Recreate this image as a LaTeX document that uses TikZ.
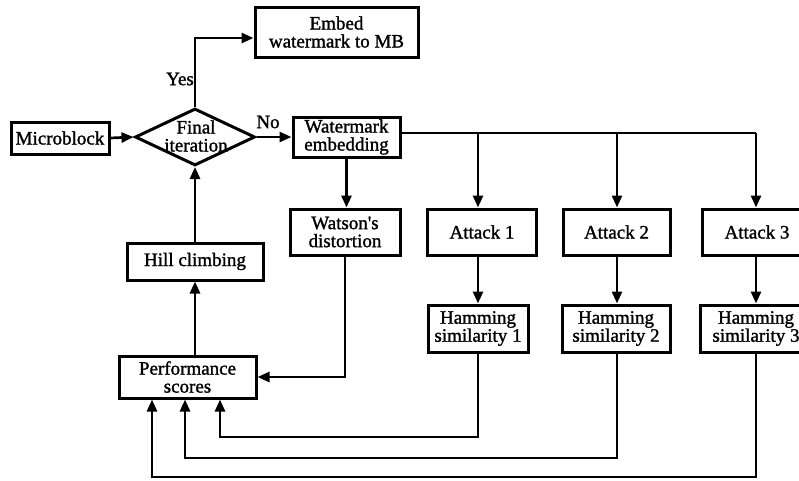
\documentclass[tikz,border=0pt]{standalone}
\usepackage{fontspec}
\setmainfont{Liberation Serif}[Ligatures=TeXOff, FakeBold=1.3]
\usetikzlibrary{shapes.geometric,arrows.meta}
\tikzset{
  box/.style={draw, line width=3pt, rectangle, inner sep=0pt, align=center,
    font=\fontsize{19}{18}\selectfont},
  conn/.style={line width=2.7pt},
  arr/.style={line width=2.7pt, -{Triangle[length=12pt,width=10pt]}},
  lbl/.style={font=\fontsize{19}{18}\selectfont, inner sep=0pt}
}
\begin{document}
\begin{tikzpicture}[x=1pt,y=-1pt]
\useasboundingbox (0,0) rectangle (799,480);
\clip (0,0) rectangle (799,480);
\fill[white] (0,0) rectangle (799,480);
% nodes
\node[box, minimum width=98pt, minimum height=32pt] (micro) at (60,138) {Microblock};
\node[draw, line width=3pt, diamond, minimum width=120pt, minimum height=57pt, inner sep=0pt] (final) at (195,137) {};
\node[lbl, align=center] (finaltxt) at (196,136) {Final\\iteration};
\node[box, minimum width=163pt, minimum height=50pt] (embed) at (336.5,32) {Embed\\watermark to MB};
\node[box, minimum width=107pt, minimum height=40pt] (wm) at (346.5,137) {Watermark\\embedding};
\node[box, minimum width=110pt, minimum height=46pt] (watson) at (345,232) {Watson's\\distortion};
\node[box, minimum width=109pt, minimum height=46pt] (att1) at (482,232) {Attack 1};
\node[box, minimum width=107pt, minimum height=46pt] (att2) at (616.5,232) {Attack 2};
\node[box, minimum width=110pt, minimum height=46pt] (att3) at (757,232) {Attack 3};
\node[box, minimum width=100pt, minimum height=47pt] (ham1) at (478,328.5) {Hamming\\similarity 1};
\node[box, minimum width=108pt, minimum height=47pt] (ham2) at (616,328.5) {Hamming\\similarity 2};
\node[box, minimum width=112pt, minimum height=47pt] (ham3) at (756,328.5) {Hamming\\similarity 3};
\node[box, minimum width=136pt, minimum height=37pt] (hill) at (195,261.5) {Hill climbing};
\node[box, minimum width=137pt, minimum height=42pt] (perf) at (187.5,377) {Performance\\scores};
% labels
\node[lbl] (yes) at (180,79) {Yes};
\node[lbl] (no) at (268,122) {No};
% coordinates
\coordinate (b1) at (478,133);
\coordinate (b2) at (617,133);
\coordinate (b3) at (756,133);
\coordinate (r1) at (220,437);
\coordinate (r2) at (185,458);
\coordinate (r3) at (152,477);
% connectors
\draw[arr] (micro.east) -- (final.west);
\draw[arr] (final.north) |- ([yshift=-6pt]embed.west);
\draw[arr] (final.east) -- (wm.west);
\draw[conn] ([yshift=4pt]wm.east) -- (b3);
\draw[arr] (b1) -- (b1 |- att1.north);
\draw[arr] (b2) -- (b2 |- att2.north);
\draw[arr] (b3) -- (b3 |- att3.north);
\draw[arr] (att1.south -| b1) -- (b1 |- ham1.north);
\draw[arr] (att2.south -| b2) -- (b2 |- ham2.north);
\draw[arr] (att3.south -| b3) -- (b3 |- ham3.north);
\draw[arr] (wm.south) -- (wm.south |- watson.north);
\draw[arr] (watson.south) |- (perf.east);
\draw[arr] (perf.north -| hill.south) -- (hill.south);
\draw[arr] (hill.north) -- (final.south);
\draw[arr] (ham1.south -| b1) |- (r1) -- (r1 |- perf.south);
\draw[arr] (ham2.south -| b2) |- (r2) -- (r2 |- perf.south);
\draw[arr] (ham3.south -| b3) |- (r3) -- (r3 |- perf.south);
\end{tikzpicture}
\end{document}
